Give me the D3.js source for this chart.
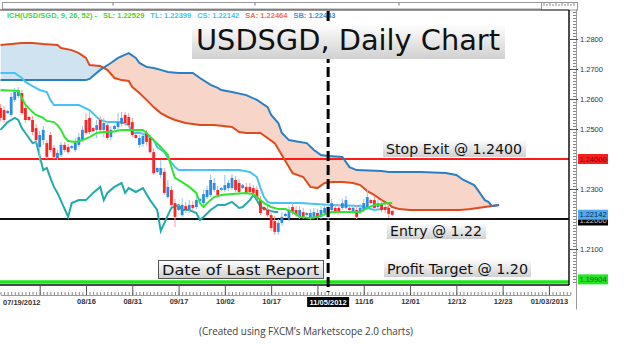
<!DOCTYPE html>
<html><head><meta charset="utf-8">
<script src="https://cdn.jsdelivr.net/npm/d3@7"></script>
<style>body{margin:0;background:#fff}svg{display:block}</style>
</head><body><svg id="c" width="624" height="346"></svg>
<script>
// ---------- DATA ----------
// candles per slot: [open, high, low, close]
const candles = [
[1.2570,1.2583,1.2527,1.2537],[1.2563,1.2577,1.2520,1.2530],[1.2553,1.2563,1.2550,1.2560],[1.2547,1.2620,1.2540,1.2607],
[1.2597,1.2637,1.2590,1.2623],[1.2610,1.2640,1.2603,1.2630],[1.2620,1.2630,1.2547,1.2553],[1.2570,1.2583,1.2520,1.2530],
[1.2540,1.2543,1.2527,1.2530],[1.2530,1.2543,1.2480,1.2490],[1.2503,1.2517,1.2453,1.2463],[1.2440,1.2493,1.2390,1.2480],
[1.2463,1.2510,1.2447,1.2497],[1.2453,1.2463,1.2400,1.2407],[1.2480,1.2490,1.2423,1.2430],[1.2437,1.2447,1.2400,1.2407],
[1.2403,1.2430,1.2397,1.2420],[1.2413,1.2457,1.2407,1.2447],[1.2447,1.2457,1.2423,1.2430],[1.2440,1.2450,1.2417,1.2423],
[1.2437,1.2447,1.2433,1.2443],[1.2430,1.2470,1.2423,1.2457],[1.2447,1.2487,1.2440,1.2473],[1.2463,1.2510,1.2457,1.2497],
[1.2530,1.2553,1.2480,1.2487],[1.2537,1.2557,1.2483,1.2490],[1.2503,1.2507,1.2490,1.2493],[1.2497,1.2530,1.2470,1.2513],
[1.2530,1.2543,1.2487,1.2497],[1.2497,1.2537,1.2473,1.2520],[1.2513,1.2527,1.2463,1.2470],[1.2473,1.2510,1.2463,1.2497],
[1.2500,1.2513,1.2497,1.2510],[1.2507,1.2553,1.2497,1.2523],[1.2517,1.2557,1.2507,1.2537],[1.2547,1.2557,1.2510,1.2520],
[1.2540,1.2553,1.2507,1.2513],[1.2523,1.2537,1.2473,1.2480],[1.2480,1.2483,1.2467,1.2470],[1.2447,1.2480,1.2437,1.2470],
[1.2450,1.2490,1.2440,1.2477],[1.2487,1.2497,1.2447,1.2457],[1.2470,1.2480,1.2417,1.2423],[1.2423,1.2437,1.2347,1.2353],
[1.2357,1.2373,1.2353,1.2370],[1.2347,1.2397,1.2337,1.2370],[1.2357,1.2370,1.2280,1.2287],[1.2273,1.2330,1.2267,1.2307],
[1.2297,1.2310,1.2240,1.2247],[1.2253,1.2267,1.2173,1.2207],[1.2230,1.2247,1.2227,1.2243],[1.2213,1.2270,1.2207,1.2247],
[1.2243,1.2257,1.2220,1.2230],[1.2230,1.2263,1.2220,1.2247],[1.2247,1.2260,1.2227,1.2237],[1.2240,1.2277,1.2233,1.2263],
[1.2260,1.2270,1.2257,1.2267],[1.2253,1.2297,1.2247,1.2283],[1.2273,1.2310,1.2267,1.2297],[1.2280,1.2347,1.2273,1.2330],
[1.2297,1.2337,1.2290,1.2320],[1.2297,1.2310,1.2273,1.2280],[1.2297,1.2307,1.2293,1.2303],[1.2297,1.2347,1.2290,1.2313],
[1.2303,1.2330,1.2293,1.2320],[1.2303,1.2350,1.2297,1.2337],[1.2330,1.2343,1.2290,1.2297],[1.2320,1.2333,1.2283,1.2290],
[1.2303,1.2317,1.2300,1.2313],[1.2307,1.2320,1.2280,1.2287],[1.2307,1.2320,1.2280,1.2290],[1.2303,1.2313,1.2277,1.2287],
[1.2297,1.2310,1.2267,1.2273],[1.2263,1.2277,1.2213,1.2220],[1.2240,1.2243,1.2227,1.2230],[1.2230,1.2243,1.2207,1.2213],
[1.2213,1.2227,1.2160,1.2170],[1.2193,1.2210,1.2147,1.2157],[1.2157,1.2200,1.2147,1.2187],[1.2187,1.2223,1.2177,1.2207],
[1.2210,1.2220,1.2207,1.2217],[1.2203,1.2243,1.2193,1.2230],[1.2240,1.2253,1.2213,1.2223],[1.2230,1.2243,1.2207,1.2213],
[1.2207,1.2243,1.2200,1.2230],[1.2223,1.2237,1.2200,1.2207],[1.2213,1.2223,1.2210,1.2220],[1.2203,1.2233,1.2197,1.2220],
[1.2207,1.2237,1.2200,1.2223],[1.2220,1.2233,1.2197,1.2203],[1.2207,1.2243,1.2200,1.2230],[1.2220,1.2250,1.2210,1.2237],
[1.2223,1.2253,1.2197,1.2240],[1.2230,1.2267,1.2223,1.2253],[1.2237,1.2250,1.2217,1.2223],[1.2237,1.2250,1.2213,1.2220],
[1.2237,1.2267,1.2230,1.2253],[1.2237,1.2277,1.2230,1.2263],[1.2237,1.2240,1.2227,1.2230],[1.2223,1.2250,1.2217,1.2237],
[1.2230,1.2243,1.2200,1.2207],[1.2223,1.2250,1.2217,1.2237],[1.2230,1.2267,1.2223,1.2253],[1.2237,1.2297,1.2230,1.2273],
[1.2263,1.2267,1.2250,1.2253],[1.2263,1.2277,1.2230,1.2237],[1.2240,1.2267,1.2233,1.2253],[1.2247,1.2263,1.2223,1.2230],
[1.2240,1.2253,1.2220,1.2230],[1.2237,1.2250,1.2203,1.2217],[1.2227,1.2230,1.2210,1.2214]
];
// Ichimoku lines: [slot, price]
const tenkan = [[0,1.2630],[5,1.2627],[6,1.2603],[7,1.2580],[9,1.2557],[10,1.2547],[12,1.2537],[13,1.2527],[15,1.2523],[16,1.2513],[17,1.2497],[18,1.2473],[19,1.2460],[21,1.2457],[23,1.2463],[25,1.2473],[27,1.2487],[29,1.2490],[31,1.2490],[34,1.2497],[37,1.2497],[40,1.2497],[41,1.2487],[43,1.2463],[45,1.2440],[47,1.2413],[48,1.2373],[49,1.2337],[51,1.2323],[53,1.2307],[55,1.2287],[56,1.2253],[57,1.2240],[58,1.2253],[60,1.2273],[62,1.2280],[65,1.2283],[69,1.2287],[71,1.2283],[73,1.2263],[74,1.2253],[76,1.2240],[78,1.2233],[80,1.2233],[82,1.2223],[84,1.2207],[87,1.2203],[89,1.2207],[92,1.2220],[93,1.2223],[97,1.2223],[101,1.2223],[103,1.2237],[105,1.2247],[109,1.2253],[110,1.2253]];
const kijun = [[0,1.2687],[4,1.2687],[6,1.2670],[7,1.2657],[9,1.2643],[11,1.2630],[13,1.2623],[14,1.2597],[15,1.2580],[19,1.2580],[22,1.2580],[25,1.2563],[27,1.2540],[28,1.2530],[30,1.2523],[34,1.2523],[36,1.2513],[37,1.2487],[39,1.2487],[41,1.2480],[43,1.2463],[44,1.2440],[46,1.2423],[47,1.2403],[49,1.2373],[50,1.2363],[67,1.2363],[70,1.2357],[72,1.2340],[73,1.2303],[74,1.2273],[75,1.2257],[76,1.2253],[84,1.2253],[93,1.2247],[101,1.2243],[105,1.2230],[107,1.2233],[109,1.2240]];
const chikou = [[0,1.2497],[2,1.2523],[4,1.2537],[5,1.2530],[6,1.2503],[8,1.2470],[9,1.2453],[10,1.2457],[11,1.2410],[12,1.2363],[13,1.2370],[14,1.2337],[15,1.2307],[16,1.2287],[19,1.2207],[20,1.2253],[22,1.2263],[24,1.2263],[26,1.2287],[28,1.2307],[29,1.2263],[30,1.2287],[32,1.2307],[34,1.2320],[35,1.2287],[36,1.2303],[38,1.2290],[40,1.2303],[42,1.2263],[44,1.2230],[45,1.2160],[47,1.2213],[48,1.2237],[50,1.2247],[51,1.2230],[53,1.2230],[55,1.2220],[56,1.2197],[57,1.2207],[59,1.2230],[61,1.2247],[63,1.2247],[65,1.2257],[67,1.2237],[68,1.2240],[70,1.2263],[71,1.2280],[72,1.2263],[73,1.2240],[75,1.2230],[77,1.2223],[78,1.2223]];
const senkouA = [[0,1.2780],[6,1.2787],[9,1.2787],[12,1.2783],[16,1.2780],[17,1.2770],[20,1.2763],[22,1.2753],[24,1.2737],[25,1.2713],[28,1.2710],[30,1.2697],[32,1.2670],[34,1.2663],[36,1.2660],[37,1.2640],[39,1.2620],[41,1.2597],[43,1.2573],[45,1.2553],[47,1.2540],[49,1.2530],[52,1.2520],[56,1.2513],[60,1.2513],[65,1.2507],[67,1.2490],[69,1.2487],[73,1.2487],[77,1.2453],[79,1.2413],[81,1.2373],[82,1.2353],[85,1.2340],[87,1.2307],[89,1.2303],[91,1.2320],[93,1.2323],[96,1.2323],[99,1.2320],[101,1.2313],[103,1.2293],[105,1.2280],[107,1.2263],[109,1.2250],[110,1.2240],[112,1.2233],[115,1.2230],[118,1.2230],[126,1.2230],[129,1.2230],[132,1.2233],[136,1.2240],[138,1.2243],[140,1.2247]];
const senkouB = [[0,1.2663],[24,1.2663],[25,1.2667],[28,1.2697],[31,1.2720],[33,1.2737],[36,1.2753],[38,1.2737],[39,1.2720],[41,1.2707],[43,1.2703],[45,1.2697],[47,1.2690],[50,1.2687],[54,1.2687],[56,1.2670],[59,1.2647],[61,1.2637],[62,1.2630],[65,1.2623],[69,1.2613],[72,1.2597],[75,1.2573],[76,1.2547],[78,1.2520],[79,1.2487],[81,1.2463],[84,1.2457],[86,1.2453],[88,1.2430],[90,1.2413],[92,1.2410],[96,1.2407],[98,1.2373],[100,1.2363],[107,1.2360],[109,1.2357],[118,1.2357],[125,1.2353],[128,1.2347],[130,1.2330],[133,1.2313],[134,1.2297],[136,1.2263],[137,1.2257],[138,1.2243],[140,1.2247]];
// axis
const xMajorSlots = [11,24,37,50,63,76,89,102,115,128,141,154];
const xMajorLabels = ["","08/16","08/31","09/17","10/02","10/17","","11/16","12/01","12/12","12/23","01/03/2013"];
const firstDateLabel = "07/19/2012";
const reportSlot = 92, reportDateLabel = "11/05/2012";
const yTickValues = [1.28,1.27,1.26,1.25,1.23,1.21];
const yTickLabels = ["1.2800","1.2700","1.2600","1.2500","1.2300","1.2100"];
const stopExit = 1.24, entry = 1.22, profitTarget = 1.19904, lastPrice = 1.22142;
const priceTags = [
  {p:1.22, t:"1.22000", bg:"#000000", fg:"#cccccc"},
  {p:1.22142, t:"1.22142", bg:"#4ea9ee", fg:"#0b2f5a"},
  {p:1.24, t:"1.24000", bg:"#f42020", fg:"#7a0000"},
  {p:1.19904, t:"1.19904", bg:"#22e622", fg:"#0a6a0a"}
];
const legendTexts = ["ICH(USD/SGD, 9, 26, 52) -","SL: 1.22529","TL: 1.22399","CS: 1.22142","SA: 1.22464","SB: 1.22443"];
const legendColors = ["#3ad83a","#3ad83a","#45c3ef","#45c3ef","#f0714e","#4a8fd0"];

// ---------- CHART ----------
const svg = d3.select("#c");
const x = d3.scaleLinear().domain([0,160]).range([0.5,570.3]);
const y = d3.scaleLinear().domain([1.19,1.29]).range([309,9]);
const defs = svg.append("defs");
const gr = defs.append("linearGradient").attr("id","boxGrad").attr("x1",0).attr("y1",0).attr("x2",0).attr("y2",1);
gr.append("stop").attr("offset","0%").attr("stop-color","#fdfdfd");
gr.append("stop").attr("offset","100%").attr("stop-color","#d0d0d0");
defs.append("clipPath").attr("id","plotClip").append("rect").attr("x",0).attr("y",10).attr("width",569).attr("height",275);

function interp(pairs, s){
  for (let i=0;i<pairs.length-1;i++){
    const [s0,v0]=pairs[i],[s1,v1]=pairs[i+1];
    if (s>=s0 && s<=s1) return v0+(v1-v0)*(s-s0)/(s1-s0);
  }
  return s<pairs[0][0]?pairs[0][1]:pairs[pairs.length-1][1];
}
const cloud = d3.range(0,140.001,0.5).map(s=>({s,a:interp(senkouA,s),b:interp(senkouB,s)}));
defs.append("clipPath").attr("id","aboveB").append("path")
  .attr("d", d3.area().x(d=>x(d.s)).y0(0).y1(d=>y(d.b))(cloud));
defs.append("clipPath").attr("id","belowB").append("path")
  .attr("d", d3.area().x(d=>x(d.s)).y0(346).y1(d=>y(d.b))(cloud));

// top bar
svg.append("rect").attr("x",2.5).attr("y",2.5).attr("width",539).attr("height",6.5).attr("fill","#fff").attr("stroke","#9a9a9a");
[113,255,399].forEach(px=>svg.append("line").attr("x1",px).attr("x2",px).attr("y1",3).attr("y2",5.5).attr("stroke","#777"));
svg.append("rect").attr("x",541.5).attr("y",2.5).attr("width",36).attr("height",7.5).attr("fill","#fff").attr("stroke","#999");
d3.range(544,577,3).forEach((px,i)=>svg.append("line").attr("x1",px).attr("x2",px).attr("y1",i%2?4:3).attr("y2",6).attr("stroke","#888"));

const plot = svg.append("g").attr("clip-path","url(#plotClip)");
const band = d3.area().x(d=>x(d.s)).y0(d=>y(d.a)).y1(d=>y(d.b));
plot.append("g").attr("clip-path","url(#aboveB)").append("path").attr("d",band(cloud)).attr("fill","#cfe3f1");
plot.append("g").attr("clip-path","url(#belowB)").append("path").attr("d",band(cloud)).attr("fill","#f7d5c8");

// horizontal levels
const lv = (p,c,w)=>plot.append("line").attr("x1",0).attr("x2",569).attr("y1",y(p)).attr("y2",y(p)).attr("stroke",c).attr("stroke-width",w);
lv(stopExit,"#ff1a1a",2);
lv(entry,"#111",2);
lv(profitTarget,"#18e818",3.5);

const line = d3.line().x(d=>x(d[0])).y(d=>y(d[1]));
plot.append("path").attr("d",line(senkouA)).attr("fill","none").attr("stroke","#e04a1c").attr("stroke-width",2);
plot.append("path").attr("d",line(senkouB)).attr("fill","none").attr("stroke","#2a7fc4").attr("stroke-width",2);
plot.append("path").attr("d",line(chikou)).attr("fill","none").attr("stroke","#22abab").attr("stroke-width",2);
plot.append("path").attr("d",line(kijun)).attr("fill","none").attr("stroke","#45c3f2").attr("stroke-width",2);

// candles
const cg = plot.append("g");
candles.forEach((c,i)=>{
  const [o,h,l,cl]=c, up = cl>=o;
  const cx = x(i);
  cg.append("line").attr("x1",cx).attr("x2",cx).attr("y1",y(h)).attr("y2",y(l))
    .attr("stroke", up?"#8fc3f0":"#ff9a9a").attr("stroke-width",1);
  const top = y(Math.max(o,cl)), bot = y(Math.min(o,cl));
  cg.append("rect").attr("x",cx-1.4).attr("y",top).attr("width",2.8).attr("height",Math.max(1,bot-top))
    .attr("fill", up?"#2b8be6":"#ff2424");
});
plot.append("path").attr("d",line(tenkan)).attr("fill","none").attr("stroke","#2fe62f").attr("stroke-width",2);

// legend
let lx = 7;
legendTexts.forEach((t,i)=>{
  const tx = svg.append("text").attr("x",lx).attr("y",17.5).text(t)
    .attr("font-family","Liberation Sans, Arial, sans-serif").attr("font-weight","bold").attr("font-size",7.5).attr("fill",legendColors[i]);
  lx += tx.node().getComputedTextLength() + 6;
});

// frame
svg.append("line").attr("x1",0).attr("x2",569).attr("y1",10).attr("y2",10).attr("stroke","#333").attr("stroke-width",1);
svg.append("line").attr("x1",569).attr("x2",569).attr("y1",10).attr("y2",285).attr("stroke","#111").attr("stroke-width",1.5);
svg.append("line").attr("x1",0).attr("x2",569).attr("y1",285).attr("y2",285).attr("stroke","#111").attr("stroke-width",1.5);

// right axis ruler
const minorY = d3.range(1199,1290).map(v=>v/1000);
const rMinor = svg.append("g").attr("transform","translate(576,0)")
  .call(d3.axisLeft(y).tickValues(minorY).tickSize(3).tickSizeOuter(0).tickFormat(""));
rMinor.select(".domain").attr("stroke","#999");
rMinor.selectAll(".tick line").attr("stroke","#888");
const rMajor = svg.append("g").attr("transform","translate(569,0)")
  .call(d3.axisRight(y).tickValues(yTickValues).tickSize(9).tickPadding(2).tickFormat((d,i)=>yTickLabels[i]));
rMajor.select(".domain").remove();
rMajor.selectAll(".tick line").attr("stroke","#555");
rMajor.selectAll("text").attr("font-family","Liberation Sans, Arial, sans-serif").attr("font-size",7.5).attr("fill","#333");

// price tags (the 1.22000 tag sits partly hidden under the current price tag, as in the source)
priceTags.forEach((tg,k)=>{
  let cy = y(tg.p); if (tg.p<1.2) cy -= 2.5;
  if (tg.p===1.22) cy += 1.5;
  svg.append("rect").attr("x",578).attr("y",cy-5).attr("width",30).attr("height",10).attr("fill",tg.bg);
  const t = svg.append("text").attr("x",593).attr("y",cy+2.7).attr("text-anchor","middle").text(tg.t)
    .attr("font-family","Liberation Sans, Arial, sans-serif").attr("font-size",7.5).attr("fill",tg.fg);
  if (tg.p===1.22){
    defs.append("clipPath").attr("id","tagClip").append("rect").attr("x",578).attr("y",y(lastPrice)+5).attr("width",30).attr("height",8);
    t.attr("clip-path","url(#tagClip)");
  }
});

// bottom axis ruler
const bMinor = svg.append("g").attr("transform","translate(0,295)")
  .call(d3.axisTop(x).tickValues(d3.range(0,161)).tickSize(3).tickSizeOuter(0).tickFormat(""));
bMinor.select(".domain").attr("stroke","#999");
bMinor.selectAll(".tick line").attr("stroke","#888");
const bMajor = svg.append("g").attr("transform","translate(0,285)")
  .call(d3.axisBottom(x).tickValues(xMajorSlots).tickSize(10).tickPadding(4).tickFormat((d,i)=>xMajorLabels[i]));
bMajor.select(".domain").remove();
bMajor.selectAll(".tick line").attr("stroke","#555");
bMajor.selectAll("text").attr("font-family","Liberation Sans, Arial, sans-serif").attr("font-weight","bold").attr("font-size",7.5).attr("fill","#333");
svg.append("text").attr("x",3).attr("y",304.5).text(firstDateLabel)
  .attr("font-family","Liberation Sans, Arial, sans-serif").attr("font-weight","bold").attr("font-size",7.5).attr("fill","#333");

// report date dashed line
svg.append("line").attr("x1",x(reportSlot)).attr("x2",x(reportSlot)).attr("y1",11).attr("y2",292)
  .attr("stroke","#000").attr("stroke-width",3).attr("stroke-dasharray","10,4");
svg.append("rect").attr("x",x(reportSlot)-21).attr("y",297).attr("width",42).attr("height",10).attr("fill","#000");
svg.append("text").attr("x",x(reportSlot)).attr("y",304.7).attr("text-anchor","middle").text(reportDateLabel)
  .attr("font-family","Liberation Sans, Arial, sans-serif").attr("font-weight","bold").attr("font-size",7.5).attr("fill","#fff");

// annotation boxes
function note(t, bx, by, bw, bh, tx, ty, fs, tl, border){
  svg.append("rect").attr("x",bx).attr("y",by).attr("width",bw).attr("height",bh)
    .attr("fill","url(#boxGrad)").attr("stroke",border||"none").attr("stroke-width",1);
  svg.append("text").attr("x",tx).attr("y",ty).text(t).attr("font-family","DejaVu Sans, Verdana, sans-serif")
    .attr("font-size",fs).attr("fill","#111").attr("textLength",tl).attr("lengthAdjust","spacingAndGlyphs");
}
note("USDSGD, Daily Chart",192,25,313,34,196,50,29,304);
note("Stop Exit @ "+stopExit.toFixed(4),383,140,143,17,386,153.5,14,136);
note("Entry @ "+entry.toFixed(2),387,223,99,16,390,236,14,92);
note("Date of Last Report",158.5,260.5,165,18,162,275,14,157,"#555");
note("Profit Target @ 1.20",384,259,147,18,387,274,14,141);

svg.append("text").attr("x",199).attr("y",335).text("(Created using FXCM\u2019s Marketscope 2.0 charts)")
  .attr("font-family","Open Sans, Liberation Sans, Arial, sans-serif").attr("font-size",10.5).attr("fill","#404040")
  .attr("textLength",214).attr("lengthAdjust","spacingAndGlyphs");
</script></body></html>
